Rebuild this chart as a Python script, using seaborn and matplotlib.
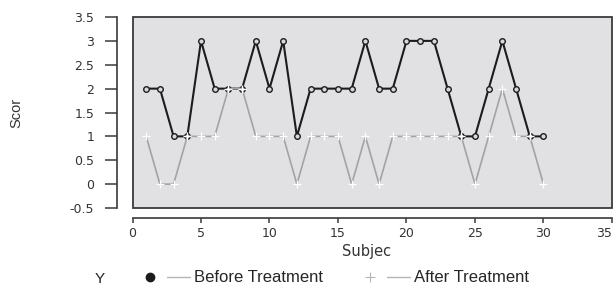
import numpy as np
import pandas as pd
import matplotlib
matplotlib.use("Agg")
import matplotlib.pyplot as plt
from matplotlib.lines import Line2D
from matplotlib.legend_handler import HandlerTuple
import seaborn as sns

# values
subjects = list(range(1, 31))
before = [2, 2, 1, 1, 3, 2, 2, 2, 3, 2, 3, 1, 2, 2, 2, 2, 3, 2, 2, 3,
          3, 3, 2, 1, 1, 2, 3, 2, 1, 1]
after = [1, 0, 0, 1, 1, 1, 2, 2, 1, 1, 1, 0, 1, 1, 1, 0, 1, 0, 1, 1,
         1, 1, 1, 1, 0, 1, 2, 1, 1, 0]
series_names = ["Before Treatment", "After Treatment"]
y_ticks = [-0.5, 0, 0.5, 1, 1.5, 2, 2.5, 3, 3.5]
y_ticklabels = ["-0.5", "0", "0.5", "1", "1.5", "2", "2.5", "3", "3.5"]
x_ticks = [0, 5, 10, 15, 20, 25, 30, 35]

df = pd.DataFrame({"Subject": subjects, "Before": before, "After": after})

sns.set_style("white")
plt.rcParams["font.family"] = ["DejaVu Sans"]

fig = plt.figure(figsize=(6.14, 2.86), dpi=100)
ax = fig.add_axes([0.2158, 0.2727, 0.7809, 0.6678])

ax.set_facecolor("#e1e1e3")
ax.patch.set_edgecolor("#3a3a3a")
ax.patch.set_linewidth(1.3)

black = "#1c1c1c"
grey = "#a3a3a3"

sns.lineplot(data=df, x="Subject", y="Before", ax=ax, color=black,
             linewidth=1.5, marker="o", markersize=4,
             markerfacecolor="#d8d8d8", markeredgecolor=black,
             markeredgewidth=1.0, zorder=3, legend=False)
sns.lineplot(data=df, x="Subject", y="After", ax=ax, color=grey,
             linewidth=1.2, marker="+", markersize=6,
             markeredgewidth=0.9, zorder=4, legend=False)

ax.set_xlim(0, 35)
ax.set_ylim(-0.5, 3.5)

# R-style detached axes
for side in ["top", "right"]:
    ax.spines[side].set_visible(False)
ax.spines["left"].set_position(("outward", 11))
ax.spines["bottom"].set_position(("outward", 7))
ax.spines["left"].set_bounds(-0.5, 3.5)
ax.spines["bottom"].set_bounds(0, 35)
for side in ["left", "bottom"]:
    ax.spines[side].set_color("#3a3a3a")
    ax.spines[side].set_linewidth(1.2)

ax.set_yticks(y_ticks)
ax.set_yticklabels(y_ticklabels)
ax.set_xticks(x_ticks)
ax.tick_params(axis="y", left=True, direction="out", length=8.5, width=1.1,
               color="#3a3a3a", pad=8, labelsize=9, labelcolor="#333333")
ax.tick_params(axis="x", bottom=True, direction="out", length=3.6, width=1.1,
               color="#3a3a3a", pad=3, labelsize=9, labelcolor="#333333")
ax.get_xticklabels()[-1].set_horizontalalignment("right")

ax.set_xlabel("Subjec", fontsize=10.5, color="#333333")
ax.xaxis.set_label_coords(0.489, -0.19)
ax.set_ylabel("Scor", fontsize=10.5, family="Liberation Sans", color="#333333")
ax.yaxis.set_label_coords(-0.228, 0.5)

# legend along the bottom
fig.text(100 / 614, 1 - 279 / 286, "Y", family="Liberation Sans",
         fontsize=11, ha="center", va="center", color="#222222")
h1 = (Line2D([], [], linestyle="none", marker="o", markersize=6,
             color=black),
      Line2D([], [], color="#b5b5b5", linewidth=1.0))
h2 = (Line2D([], [], linestyle="none", marker="+", markersize=7,
             markeredgewidth=0.8, color="#b5b5b5"),
      Line2D([], [], color="#b5b5b5", linewidth=1.0))
fig.legend([h1, h2], series_names, loc="center left",
           bbox_to_anchor=(130 / 614, 1 - 278 / 286), ncol=2,
           frameon=False, borderpad=0, handlelength=3.1,
           handletextpad=0.25, columnspacing=2.1,
           handler_map={tuple: HandlerTuple(ndivide=None, pad=0.3)},
           prop={"family": "Liberation Sans", "size": 12})

fig.savefig("out.png", dpi=100)
